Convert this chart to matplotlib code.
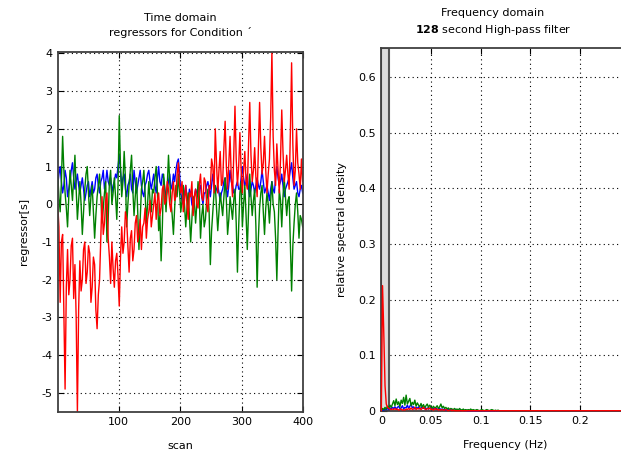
import numpy as np
import matplotlib
matplotlib.use("Agg")
import matplotlib.pyplot as plt

plt.rcParams['font.family'] = ['DejaVu Sans']
plt.rcParams['font.size'] = 8
plt.rcParams['axes.unicode_minus'] = False

# Acquisition settings
TR = 2.0          # seconds per scan
n_scans = 400
scan_step = 2     # regressor samples listed every 2nd scan
hp_cutoff = 128   # high-pass filter period (s)

# Time-domain regressors (one sample every 2 scans, starting at scan 1)
blue_reg = [
    0.5, 0.8, 1.0, 0.6, 0.3, 0.5, 0.9, 0.7, 0.2, 0.4, 0.6, 0.9, 1.1, 0.7, 0.4, 0.6, 0.8, 0.5, 0.3, 0.5, 0.7, 0.4, 0.1, 0.3, 0.5,
    0.6, 0.2, 0.4, 0.6, 0.3, 0.4, 0.7, 0.8, 0.5, 0.3, 0.6, 0.7, 0.9, 0.4, 0.6, 0.9, 0.6, 0.5, 0.7, 0.3, 0.5, 0.6, 0.8, 0.7, 1.0,
    1.3, 0.9, 0.5, 0.7, 0.8, 0.4, 0.2, 0.5, 0.6, 0.8, 0.4, 0.3, 0.9, 0.6, 0.3, 0.5, 0.7, 0.9, 0.5, 0.3, 0.2, 0.5, 0.6, 0.8, 0.9,
    0.6, 0.4, 0.6, 0.8, 0.5, 0.3, 0.7, 1.0, 0.6, 0.5, 0.8, 0.7, 0.4, 0.2, 0.4, 0.6, 0.8, 0.4, 0.5, 0.8, 0.6, 0.9, 1.1, 1.2, 0.8,
    0.3, 0.1, 0.0, 0.3, 0.5, 0.2, 0.1, 0.4, 0.3, 0.0, -0.1, 0.2, 0.4, 0.3, 0.2, 0.4, 0.5, 0.2, 0.0, 0.3, 0.3, 0.5, 0.6, 0.4, 0.2,
    0.5, 0.8, 0.5, 0.3, 0.4, 0.5, 0.3, 0.1, 0.3, 0.4, 0.6, 0.7, 0.4, 0.2, 0.5, 0.9, 0.6, 0.5, 0.3, 0.3, 0.5, 0.6, 0.4, 0.4, 0.7,
    1.0, 0.7, 0.5, 0.6, 0.8, 0.4, 0.2, 0.4, 0.6, 0.5, 0.3, 0.5, 0.7, 0.5, 0.4, 0.6, 0.9, 0.6, 0.3, 0.4, 0.5, 0.3, 0.1, 0.4, 0.6,
    0.4, 0.3, 0.7, 1.0, 0.7, 0.5, 0.6, 0.8, 0.5, 0.2, 0.4, 0.5, 0.6, 0.7, 0.9, 1.1, 0.7, 0.4, 0.5, 0.6, 0.3, 0.2, 0.4, 0.5, 0.3,
]
green_reg = [
    0.8, 0.2, -0.2, 0.6, 1.8, 0.9, 0.3, -0.1, -0.6, 0.2, 0.9, 0.5, 0.1, 0.7, 1.3, 0.4, -0.4, 0.1, 0.6, 0.0, -0.8, -0.2, 0.4, 0.8, 1.0,
    0.3, -0.3, 0.2, 0.5, -0.2, -0.9, -0.3, 0.2, 0.5, 0.8, 0.2, -0.5, -0.1, 0.3, 0.6, -1.0, -0.4, 0.6, 0.9, 0.0, 0.3, 0.7, 0.2, -0.4, 0.5,
    2.35, 1.0, 0.2, 0.6, 1.4, 0.7, -0.6, 0.0, 0.5, 0.9, 1.3, 0.4, -0.3, 0.2, 0.7, -0.2, -1.2, -0.4, 0.4, 0.6, 0.9, 0.3, -0.5, 0.0, 0.6,
    0.1, -0.2, 0.4, 0.3, 0.7, 1.0, 0.3, -0.7, -0.3, -1.5, -0.6, 0.8, 0.4, -0.2, 0.5, 1.3, 0.6, 0.1, -0.3, -0.8, -0.1, 0.5, 0.2, 0.8, 0.3,
    -0.2, 0.1, 0.5, 0.0, -0.6, -0.1, 0.3, -0.3, -1.0, -0.4, 0.2, 0.1, -0.5, 0.0, 0.6, 0.2, -0.9, -0.3, 0.0, -0.6, -0.4, 0.1, 0.4, -0.2, -1.6,
    -0.7, -0.2, 0.3, 0.5, -0.1, -0.7, -0.2, 0.3, 0.0, -0.3, 0.2, 0.7, 0.1, -0.8, -0.4, 0.2, -0.1, -0.4, 0.1, 0.4, -0.5, -1.8, -0.6, 0.3, 0.6,
    -0.6, 0.0, 0.5, -0.3, -1.2, -0.2, 0.8, 0.2, -0.3, 0.1, 0.4, -0.6, -2.2, -0.9, -0.1, 0.3, 0.5, -0.2, -0.8, -0.1, 0.3, 0.0, -0.5, 0.1, 0.6,
    0.0, -0.2, -0.9, -2.0, -0.7, 0.4, 0.1, -0.6, 0.2, 0.7, 0.2, -0.3, 0.1, 0.2, -1.0, -2.3, -1.1, -0.5, 0.0, 0.3, -0.2, -0.9, -0.3, -0.4, -0.6,
]
red_reg = [
    0.0, -0.6, -2.6, -1.0, -0.8, -2.9, -4.9, -2.2, -1.2, -2.4, -2.0, -1.1, -0.9, -2.5, -1.6, -3.0, -5.5, -2.8, -1.5, -2.3, -2.0, -1.2, -1.0, -2.1, -1.8,
    -1.1, -1.3, -2.6, -2.2, -1.4, -1.6, -2.8, -3.3, -2.4, -2.0, -0.9, 0.2, -0.8, -0.5, 0.1, 0.3, -0.9, -1.4, -2.1, -1.0, -1.7, -2.2, -1.5, -1.3, -1.9,
    -2.7, -1.4, -0.6, -1.3, -1.0, -0.2, -0.4, -1.1, -1.8, -0.9, -0.7, -1.5, -1.2, -0.5, -0.3, -1.0, -0.8, -0.4, -1.2, -0.6, -0.5, -0.1, -0.9, -0.4, -0.2,
    0.1, -0.6, -0.3, 0.0, 0.3, -0.4, 0.1, 0.3, -0.3, -0.1, 0.4, 0.5, 0.0, 0.1, 0.6, 0.4, 0.0, -0.2, 0.3, 0.6, 0.1, 0.2, 0.8, 1.1, 0.5,
    0.3, 0.6, -0.2, 0.1, 0.5, 0.0, -0.4, 0.3, 0.2, 0.6, -0.3, 0.2, 0.4, 0.0, -0.1, 0.5, 0.8, 0.2, 0.1, 0.7, 0.6, 0.0, -0.2, 0.5, 0.4,
    1.2, 1.0, 0.3, 2.0, 1.1, 0.3, 0.9, 1.4, 0.5, 0.6, 1.5, 2.2, 1.0, 0.4, 1.1, 1.8, 0.7, 0.2, 1.3, 2.6, 1.2, 0.5, 1.0, 1.9, 0.9,
    0.3, 0.9, 1.4, 0.6, 0.4, 1.6, 2.7, 1.3, 0.6, 0.9, 1.5, 0.7, 0.2, 1.4, 2.7, 1.5, 0.8, 1.1, 1.8, 0.9, 0.3, 0.8, 1.2, 2.3, 4.05,
    1.8, 0.9, 0.5, 1.6, 0.9, 0.3, 1.2, 2.5, 1.4, 0.6, 0.9, 1.3, 0.8, 0.4, 1.9, 3.75, 1.6, 0.5, 0.9, 2.0, 1.1, 0.8, 0.4, 1.2, 0.6,
]

# Relative spectral density per frequency bin (bin width 1/(n_scans*TR));
# bins past the listed values are zero.
blue_psd = [
    0.0, 0.002, 0.001, 0.003, 0.002, 0.004, 0.002, 0.005, 0.003, 0.006,
    0.004, 0.007, 0.003, 0.006, 0.008, 0.004, 0.005, 0.009, 0.003, 0.006,
    0.005, 0.010, 0.004, 0.008, 0.012, 0.005, 0.007, 0.003, 0.006, 0.004,
    0.007, 0.003, 0.005, 0.008, 0.004, 0.006, 0.002, 0.005, 0.003, 0.004,
    0.006, 0.002, 0.004, 0.003, 0.005, 0.002, 0.003, 0.004, 0.002, 0.003,
    0.002, 0.003, 0.001, 0.002, 0.003, 0.001, 0.002, 0.001, 0.002, 0.001,
    0.001, 0.002, 0.001, 0.001, 0.0, 0.001, 0.001, 0.0, 0.001, 0.0,
]
green_psd = [
    0.0, 0.004, 0.002, 0.006, 0.003, 0.008, 0.005, 0.010, 0.006, 0.012,
    0.018, 0.009, 0.021, 0.011, 0.016, 0.007, 0.019, 0.013, 0.024, 0.010,
    0.028, 0.012, 0.017, 0.022, 0.009, 0.015, 0.011, 0.019, 0.008, 0.014,
    0.010, 0.007, 0.013, 0.006, 0.011, 0.005, 0.009, 0.012, 0.006, 0.010,
    0.007, 0.004, 0.008, 0.005, 0.006, 0.009, 0.004, 0.007, 0.012, 0.005,
    0.008, 0.004, 0.006, 0.003, 0.005, 0.002, 0.004, 0.003, 0.002, 0.004,
    0.002, 0.003, 0.001, 0.004, 0.002, 0.001, 0.003, 0.001, 0.002, 0.001,
    0.002, 0.001, 0.003, 0.001, 0.002, 0.001, 0.001, 0.002, 0.001, 0.0,
    0.001, 0.002, 0.001, 0.0, 0.001, 0.002, 0.001, 0.0, 0.001, 0.002,
    0.001, 0.0, 0.001, 0.0, 0.001, 0.0,
]
red_psd = [
    0.0, 0.225, 0.14, 0.045, 0.012, 0.006, 0.004, 0.003, 0.002, 0.003,
    0.002, 0.004, 0.002, 0.003, 0.001, 0.002, 0.003, 0.001, 0.002, 0.001,
    0.003, 0.002, 0.004, 0.002, 0.005, 0.002, 0.003, 0.006, 0.002, 0.004,
    0.003, 0.005, 0.002, 0.004, 0.006, 0.003, 0.002, 0.004, 0.003, 0.005,
    0.002, 0.003, 0.001, 0.004, 0.002, 0.003, 0.001, 0.002, 0.001, 0.002,
    0.001, 0.001, 0.002, 0.001, 0.0, 0.001, 0.001, 0.0, 0.001, 0.0,
]

colors = ['#0000ff', '#008000', '#ff0000']

n_bins = n_scans // 2 + 1
freqs = np.arange(n_bins) / (n_scans * TR)


def scan_axis(reg):
    return np.arange(len(reg)) * scan_step + 1


def full_spectrum(psd):
    psd = np.asarray(psd, dtype=float)
    return np.concatenate([psd, np.zeros(n_bins - len(psd))])


def style_axes(ax):
    ax.grid(True, linestyle=(0, (1, 3)), color='k', linewidth=0.8)
    ax.set_axisbelow(True)
    ax.tick_params(direction='in', length=4, width=0.8, top=True, right=True,
                   pad=4, labelsize=8, colors='#000000')
    for sp in ax.spines.values():
        sp.set_color('#404040')
        sp.set_linewidth(1.3)


W, H = 621, 453
fig = plt.figure(figsize=(W / 100, H / 100), dpi=100)

# ---- time domain ----
ax1 = fig.add_axes([57.7 / W, (H - 411.7) / H, 245.6 / W, 360.2 / H])
for reg, c in zip([blue_reg, green_reg, red_reg], colors):
    ax1.plot(scan_axis(reg), reg, color=c, linewidth=1.0)
ax1.set_xlim(1, 400)
ax1.set_ylim(-5.5, 4.05)
ax1.set_xticks([100, 200, 300, 400])
ax1.set_yticks(np.arange(-5, 5))
ax1.set_yticklabels([str(v) for v in range(-5, 5)])
style_axes(ax1)
ax1.set_title('Time domain\nregressors for Condition \u00b4', fontsize=8, pad=11,
              linespacing=1.5)
ax1.set_xlabel('scan', fontsize=8, labelpad=10)
ax1.set_ylabel('regressor[s]', fontsize=8, labelpad=9)

# ---- frequency domain ----
ax2 = fig.add_axes([381.3 / W, (H - 410.7) / H, 248.3 / W, 362.4 / H])
ax2.axvspan(0, 1 / hp_cutoff, facecolor='#dddddd', edgecolor='#555555',
            linewidth=1.5, zorder=1)
for psd, c in zip([blue_psd, green_psd, red_psd], colors):
    ax2.plot(freqs, full_spectrum(psd), color=c, linewidth=1.0, zorder=3,
             clip_on=False)
ax2.set_xlim(0, 0.25)
ax2.set_ylim(0, 0.652)
ax2.set_xticks([0, 0.05, 0.1, 0.15, 0.2])
ax2.set_xticklabels(['0', '0.05', '0.1', '0.15', '0.2'])
ax2.set_yticks([0, 0.1, 0.2, 0.3, 0.4, 0.5, 0.6])
ax2.set_yticklabels(['0', '0.1', '0.2', '0.3', '0.4', '0.5', '0.6'])
style_axes(ax2)
ax2.set_title('Frequency domain\n$\\mathbf{128}$ second High-pass filter',
              fontsize=8, pad=11, x=0.45, linespacing=1.5)
ax2.set_xlabel('Frequency (Hz)', fontsize=8, labelpad=10)
ax2.set_ylabel('relative spectral density', fontsize=8, labelpad=8)

fig.savefig('out.png', dpi=100)
